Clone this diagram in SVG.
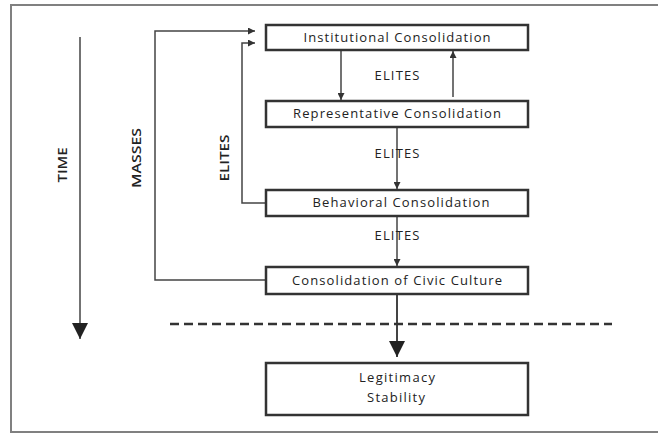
<svg xmlns="http://www.w3.org/2000/svg" width="658" height="434" viewBox="0 0 658 434">
<defs>
<marker id="sm" viewBox="0 0 10 10" refX="10" refY="5" markerWidth="7" markerHeight="7" markerUnits="userSpaceOnUse" orient="auto"><path d="M0,0 L10,5 L0,10 Z" fill="#333"/></marker>
<marker id="big" viewBox="0 0 10 10" refX="10" refY="5" markerWidth="16" markerHeight="18" markerUnits="userSpaceOnUse" orient="auto"><path d="M0,0 L10,5 L0,10 Z" fill="#222"/></marker>
</defs>
<style>
.box{fill:#fff;stroke:#333;stroke-width:2.5}
.t{font-family:"Open Sans","Noto Sans",sans-serif;font-size:13px;fill:#222;text-anchor:middle}
.c{fill:none;stroke:#444;stroke-width:1.5}
.v{font-family:"Open Sans","Noto Sans",sans-serif;font-size:12px;font-weight:600;fill:#222;text-anchor:middle}
</style>
<rect x="11" y="5" width="660" height="427" fill="#fff" stroke="#808080" stroke-width="2"/>
<g id="connectors">
<line class="c" x1="80" y1="37" x2="80" y2="339" marker-end="url(#big)"/>
<line class="c" x1="341" y1="51" x2="341" y2="100" marker-end="url(#sm)"/>
<line class="c" x1="453" y1="97" x2="453" y2="51" marker-end="url(#sm)"/>
<line class="c" x1="397" y1="128" x2="397" y2="189" marker-end="url(#sm)"/>
<line class="c" x1="397" y1="217" x2="397" y2="266" marker-end="url(#sm)"/>
<line class="c" x1="397" y1="295" x2="397" y2="357" marker-end="url(#big)" style="stroke-width:2"/>
<polyline class="c" points="266,280 155,280 155,31 255,31" marker-end="url(#sm)"/>
<polyline class="c" points="266,203 242,203 242,43 255,43" marker-end="url(#sm)"/>
<line x1="170" y1="324" x2="612" y2="324" stroke="#333" stroke-width="2.5" stroke-dasharray="9,5"/>
<text class="v" transform="translate(67,165) rotate(-90)" textLength="35" lengthAdjust="spacingAndGlyphs">TIME</text>
<text class="v" transform="translate(141,158) rotate(-90)" textLength="60" lengthAdjust="spacingAndGlyphs">MASSES</text>
<text class="v" transform="translate(229,158) rotate(-90)" textLength="47" lengthAdjust="spacingAndGlyphs">ELITES</text>
<text class="t" x="397" y="80" textLength="45" lengthAdjust="spacing">ELITES</text>
<text class="t" x="397" y="158" textLength="45" lengthAdjust="spacing">ELITES</text>
<text class="t" x="397" y="240" textLength="45" lengthAdjust="spacing">ELITES</text>
</g>
<g id="institutional">
<rect class="box" x="266" y="25" width="262" height="25"/>
<text class="t" x="397" y="42" textLength="187" lengthAdjust="spacing">Institutional Consolidation</text>
</g>
<g id="representative">
<rect class="box" x="266" y="101" width="262" height="26"/>
<text class="t" x="397" y="118" textLength="208" lengthAdjust="spacing">Representative Consolidation</text>
</g>
<g id="behavioral">
<rect class="box" x="266" y="190" width="262" height="26"/>
<text class="t" x="401" y="207" textLength="177" lengthAdjust="spacing">Behavioral Consolidation</text>
</g>
<g id="civic">
<rect class="box" x="266" y="267" width="262" height="27"/>
<text class="t" x="397" y="285" textLength="210" lengthAdjust="spacing">Consolidation of Civic Culture</text>
</g>
<g id="legitimacy">
<rect class="box" x="266" y="363" width="262" height="52"/>
<text class="t" x="397" y="382" textLength="76" lengthAdjust="spacing">Legitimacy</text>
<text class="t" x="396" y="402" textLength="58" lengthAdjust="spacing">Stability</text>
</g>
</svg>
